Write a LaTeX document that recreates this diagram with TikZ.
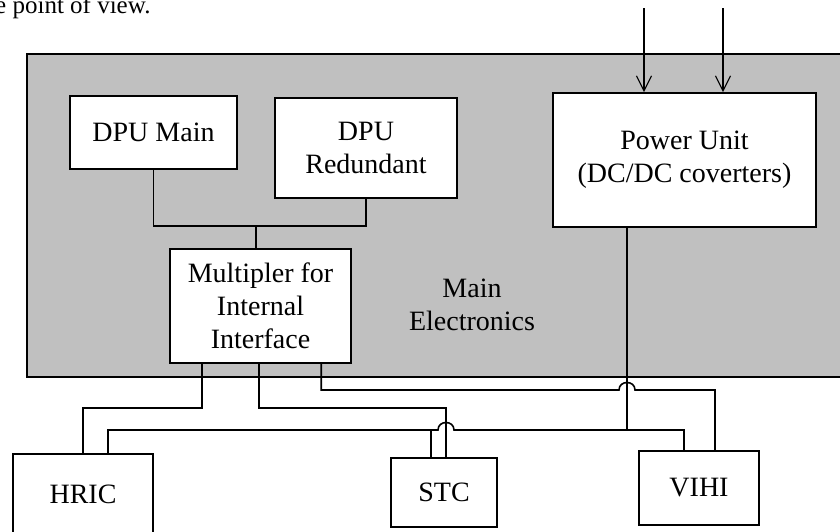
\documentclass[tikz,border=0pt]{standalone}
\usepackage{fontspec}
\setmainfont{Liberation Serif}
\usetikzlibrary{arrows.meta}
\definecolor{panelgray}{HTML}{C0C0C0}
\tikzset{
  unitbox/.style={draw, fill=white, line width=1.6pt, align=center, inner sep=0pt,
    font=\fontsize{28}{33}\selectfont},
  wire/.style={line width=1.6pt},
  feed/.style={wire, -{Straight Barb[length=15pt,width=15pt,line width=1.2pt]}}
}
\begin{document}
\begin{tikzpicture}[x=1pt,y=-1pt]
\useasboundingbox (0,0) rectangle (840,531);
\clip (0,0) rectangle (840,531);

%page text above the figure
\node [anchor=base west, inner sep=0pt, font=\fontsize{25}{30}\selectfont] (pagetext) at (-5,13) {e point of view.};

%main electronics panel
\filldraw [fill=panelgray, line width=1.6pt] (27,54) rectangle (870,377);
\node [align=center, font=\fontsize{28}{33}\selectfont] (mainlabel) at (472,305) {Main\\Electronics};

%units
\node [unitbox, minimum width=167pt, minimum height=73pt] (dpumain) at (153.5,132.5) {DPU Main};
\node [unitbox, minimum width=182pt, minimum height=100pt] (dpured) at (366,148) {DPU\\Redundant};
\node [unitbox, minimum width=263pt, minimum height=134pt] (power) at (684.5,160) {Power Unit\\(DC/DC coverters)};
\node [unitbox, minimum width=181pt, minimum height=114pt] (mult) at (260.5,306) {Multipler for\\Internal\\Interface};
\node [unitbox, minimum width=140pt, minimum height=80pt] (hric) at (83,494) {HRIC};
\node [unitbox, minimum width=106pt, minimum height=69pt] (stc) at (444,492.5) {STC};
\node [unitbox, minimum width=120pt, minimum height=74pt] (vihi) at (699,488) {VIHI};

%levels of the wiring
\coordinate (lvD) at (0,226);
\coordinate (lvC) at (0,390);
\coordinate (lvA) at (0,408);
\coordinate (lvB) at (0,430);
\coordinate (in1) at (644,8);
\coordinate (in2) at (723,8);
\coordinate (pw) at ([xshift=-57.5pt]power.south);
\coordinate (ma) at ([xshift=33pt]mult.south west);
\coordinate (mb) at ([xshift=90pt]mult.south west);
\coordinate (mc) at ([xshift=152pt]mult.south west);

%power inputs
\draw [feed] (in1) -- (in1 |- power.north);
\draw [feed] (in2) -- (in2 |- power.north);

%dpu to multiplexer
\draw [wire] (dpumain.south) |- (dpured.south |- lvD) -- (dpured.south);
\draw [wire] ([xshift=-4.5pt]mult.north) -- ([xshift=-4.5pt]mult.north |- lvD);

%multiplexer to instruments
\draw [wire] (ma) |- (hric.north |- lvA) -- (hric.north);
\draw [wire] (mb) |- ([xshift=2pt]stc.north |- lvA) -- ([xshift=2pt]stc.north);
\draw [wire] (mc) |- ([xshift=-8pt]pw |- lvC) .. controls +(0,-10) and +(0,-10) .. ([xshift=8pt]pw |- lvC) -| ([xshift=16pt]vihi.north);

%power bus
\draw [wire] (pw) -- (pw |- lvB);
\draw [wire] ([xshift=25pt]hric.north) |- ([xshift=-6pt]stc.north |- lvB) .. controls +(0,-10) and +(0,-10) .. ([xshift=10pt]stc.north |- lvB) -| ([xshift=-15pt]vihi.north);
\draw [wire] ([xshift=-13pt]stc.north) -- ([xshift=-13pt]stc.north |- lvB);

\end{tikzpicture}
\end{document}
